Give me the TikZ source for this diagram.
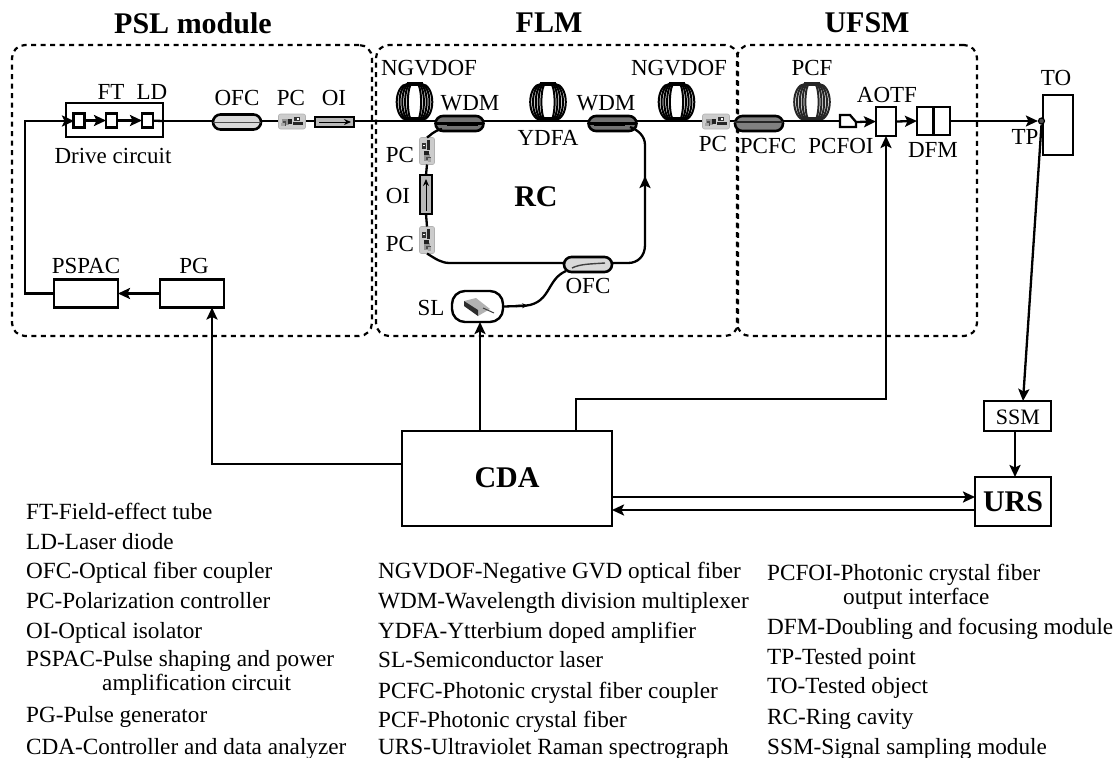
\documentclass[tikz,border=0pt]{standalone}
\usepackage{fontspec}
\setmainfont{Liberation Serif}
\usetikzlibrary{arrows.meta}
\tikzset{
 ln/.style={line width=2.3pt,draw=black},
 arr/.style={ln,-{Stealth[length=12pt,width=11pt,inset=2.5pt]}},
 boxn/.style={draw=black,line width=2.4pt,fill=white,inner sep=0pt,outer sep=0pt,rectangle},
 modbox/.style={draw=black,line width=2.2pt,dash pattern=on 5pt off 4.5pt,rounded corners=13pt,fill=none,inner sep=0pt,rectangle},
 coupler/.style={draw=black,line width=2.6pt,rounded corners=7.5pt,inner sep=0pt,outer sep=0pt,rectangle,minimum width=48pt,minimum height=15pt},
 lab/.style={font=\fontsize{23}{23}\selectfont,inner sep=0pt},
 bold/.style={font=\fontsize{30}{30}\selectfont\bfseries,inner sep=0pt},
 leg/.style={font=\fontsize{23.2}{24}\selectfont,inner sep=0pt,anchor=base west},
 pcn/.style={draw=gray!60,fill=gray!40,line width=.6pt,rounded corners=2pt,inner sep=0pt,outer sep=0pt,rectangle},
}
\newcommand\coil[3]{%
 \foreach \w in {17.8,15,12.2,9.4,6.6}{%
  \pgfmathsetmacro\k{\w*0.4}\pgfmathsetmacro\r{\w*0.6}%
  \draw[#3,line width=2pt] (#1-\k,#2-18) arc (90:270:\r pt and 18pt) -- (#1+\k,#2+18) arc (-90:90:\r pt and 18pt) -- cycle;}
 \draw[#3,line width=3.5pt] (#1-8,#2-18) -- (#1+8,#2-18);
 \draw[#3,line width=3.5pt] (#1-8,#2+17) -- (#1+8,#2+17);}
\newcommand\pcicon[4]{%
 \node[pcn,minimum width=27pt,minimum height=15pt,rotate=#4] (#1) at (#2,#3) {};
 \begin{scope}[shift={(#2,#3)},rotate=#4]
  \fill[gray!85] (-10,-3) rectangle (-3,3);
  \fill[gray!25!black] (-4,-3) rectangle (0,2);
  \fill[gray!40!black] (2,-5) rectangle (8,-1);
  \fill[gray!30!black] (1,0) rectangle (11,3);
  \fill[gray!60!black] (-9,-1) rectangle (-6,4);
  \fill[gray!70] (-11,1) rectangle (-7,4);
  \fill[white] (5,-4) rectangle (6.5,-2);
 \end{scope}}
\begin{document}
\begin{tikzpicture}[x=1pt,y=-1pt]
\useasboundingbox (0,0) rectangle (1120,758);
% module frames
\node[modbox,minimum width=360pt,minimum height=291pt] (psl) at (192,190.5) {};
\node[modbox,minimum width=362pt,minimum height=291pt] (flm) at (557,190.5) {};
\node[modbox,minimum width=240pt,minimum height=291pt] (ufsm) at (857,190.5) {};
\node[bold] (tpsl) at (193,23) {PSL module};
\node[bold] (tflm) at (549,23) {FLM};
\node[bold] (tufsm) at (867,23) {UFSM};
% coils
\coil{414.5}{102}{black}
\coil{548}{102}{black}
\coil{676.5}{102}{black}
\coil{812}{102}{gray!30!black}
% main fibre line
\coordinate (fstart) at (163,121);
\coordinate (fend) at (839,121);
\draw[ln] (fstart) -- (fend);
% drive circuit
\node[boxn,fill=none,minimum width=97pt,minimum height=34pt] (drive) at (114.5,120) {};
\node[boxn,minimum width=11pt,minimum height=14pt] (ftA) at (79,120.5) {};
\node[boxn,minimum width=11pt,minimum height=14pt] (ft) at (111.5,120.5) {};
\node[boxn,minimum width=11pt,minimum height=14pt] (ld) at (147.5,120.5) {};
\draw[arr] (ftA) -- (ft);
\draw[arr] (ft) -- (ld);
\draw[ln] (ld) -- (fstart);
% PSL parts
\node[coupler,fill=gray!30,minimum width=48pt] (ofcA) at (237,122) {};
\draw[gray!60!black,line width=1pt] (ofcA.west) -- (ofcA.east);
\pcicon{pcA}{292}{121.5}{0}
\node[boxn,fill=gray!55,minimum width=39pt,minimum height=10pt] (oiA) at (334.5,122) {};
\coordinate (oiAa) at (319,122);\coordinate (oiAb) at (351,122);
\draw[line width=1pt,-{Stealth[length=7pt,width=6pt]}] (oiAa) -- (oiAb);
\node[boxn,minimum width=64pt,minimum height=28pt] (pspac) at (86,293.5) {};
\node[boxn,minimum width=64pt,minimum height=28pt] (pg) at (192,293.5) {};
\draw[arr] (pg) -- (pspac);
\coordinate (corA) at (25,293.5);\coordinate (corB) at (25,121);\coordinate (driveIn) at (74,121);
\draw[arr] (pspac.west) -- (corA) -- (corB) -- (driveIn);
% ring cavity
\node[coupler,fill=black!55,minimum width=48pt] (wdmA) at (459.5,123.5) {};
\node[coupler,fill=black!55,minimum width=48pt] (wdmB) at (612.5,123.5) {};
\coordinate (wa1) at (447,124);\coordinate (wa2) at (478,124);
\coordinate (wb1) at (594,124);\coordinate (wb2) at (625,124);
\draw[line width=3.5pt] (wa1) -- (wa2);
\draw[line width=3.5pt] (wb1) -- (wb2);
\draw[ln] (wdmA.west) -- (wdmA.east);
\draw[ln] (wdmB.west) -- (wdmB.east);
\node[coupler,fill=black!50,minimum width=48pt] (pcfc) at (759,123.5) {};
\coordinate (pcfca) at (734,122);\coordinate (pcfcd) at (783,122);
\draw[ln,gray!30!black] (pcfca) -- (pcfcd);
\pcicon{pcC}{716}{121.5}{0}
\pcicon{pcD}{427}{151}{90}
\pcicon{pcE}{427}{240}{90}
\node[boxn,fill=gray!55,minimum width=12pt,minimum height=39pt] (oiB) at (426,194.5) {};
\coordinate (oiBa) at (426,211);\coordinate (oiBb) at (426,179);
\draw[line width=1pt,-{Stealth[length=7pt,width=6pt]}] (oiBa) -- (oiBb);
\draw[ln] (pcE.east) -- (oiB.south);
\draw[ln] (oiB.north) -- (pcD.west);
\node[coupler,fill=gray!30,minimum width=48pt] (ofcB) at (588,264.5) {};
\coordinate (ofcBa) at (572,268);\coordinate (ofcBb) at (605,263);
\draw[gray!50!black,line width=1.4pt] (ofcBa) .. controls (580,264) and (590,264) .. (ofcBb);
\coordinate (rbL) at (565,263);\coordinate (rbR) at (612,263);
\coordinate (rb2) at (645,245);\coordinate (rb3) at (645,145);\coordinate (wdmBr) at (630,127);\coordinate (wdmAl) at (442,129);
\draw[ln] (pcD.east) .. controls (430,136) and (433,131) .. (wdmAl);
\draw[ln] (pcE.west) .. controls (436,259) and (441,263) .. (450,263) -- (rbL);
\draw[ln] (rbR) -- (628,263) .. controls (638,263) and (645,256) .. (rb2) -- (rb3) .. controls (645,136) and (638,130) .. (wdmBr);
\coordinate (rarrA) at (645,200);\coordinate (rarrB) at (645,176);
\draw[arr] (rarrA) -- (rarrB);
% SL
\node[draw=black,line width=2.4pt,rounded corners=13pt,fill=white,inner sep=0pt,minimum width=51pt,minimum height=31pt] (sl) at (477.5,306.5) {};
\fill[gray!60] (464,301) -- (476,298) -- (490,309) -- (478,316) -- cycle;
\fill[gray!35!black] (464,301) -- (478,310) -- (478,316) -- (464,306) -- cycle;
\draw[gray!50!black,line width=1pt] (483,308) -- (494,313);
\draw[ln] (sl.east) -- (520,306) .. controls (552,306) and (545,280) .. (566,271);
\coordinate (slma) at (516,306);\coordinate (slmb) at (528,305.5);
\draw[ln,-{Stealth[length=6pt,width=5pt]}] (slma) -- (slmb);
% UFSM parts
\coordinate (pfa) at (840,115);\coordinate (pfb) at (850,115);\coordinate (pfc) at (856,122);\coordinate (pfd) at (856,127);\coordinate (pfe) at (840,127);
\draw[ln,fill=white,line join=miter] (pfa) -- (pfb) -- (pfc) -- (pfd) -- (pfe) -- cycle;
\node[boxn,minimum width=20pt,minimum height=29pt] (aotf) at (886,121.5) {};
\node[boxn,minimum width=33pt,minimum height=28pt] (dfm) at (933.5,121) {};
\draw[line width=2.2pt] (dfm.north) -- (dfm.south);
\draw[arr] (pfc) -- (aotf.west);
\draw[arr] (aotf.east) -- (dfm.west);
\node[boxn,minimum width=30pt,minimum height=60pt] (to) at (1058,125) {};
\node[circle,draw=black,fill=gray!60!black,line width=1.2pt,minimum size=6pt,inner sep=0pt] (tp) at (1041.5,121) {};
\draw[arr] (dfm.east) -- (tp.west);
% lower blocks
\node[boxn,minimum width=210pt,minimum height=95pt] (cda) at (507,478.5) {};
\node[boxn,minimum width=67pt,minimum height=30pt] (ssm) at (1017.5,416) {};
\node[boxn,minimum width=76pt,minimum height=49pt] (urs) at (1013,501.5) {};
\coordinate (cdaL) at (402,464);\coordinate (pgin) at (212,464);\coordinate (slin) at (480,431);
\coordinate (cda2) at (576,431);\coordinate (cda3) at (576,399);\coordinate (cda4) at (886,399);
\coordinate (c1a) at (612,497);\coordinate (c1b) at (975,497);\coordinate (c2a) at (975,510);\coordinate (c2b) at (612,510);
\coordinate (pgb) at (212,307.5);\coordinate (slb) at (480,322);
\coordinate (ssmt) at (1023,401);\coordinate (ssmb) at (1015,431);\coordinate (urst) at (1015,477);
\draw[arr] (cdaL) -- (pgin) -- (pgb);
\draw[arr] (slin) -- (slb);
\draw[arr] (cda2) -- (cda3) -- (cda4) -- (aotf.south);
\draw[arr] (c1a) -- (c1b);
\draw[arr] (c2a) -- (c2b);
\draw[arr] (tp.south) -- (ssmt);
\draw[arr] (ssmb) -- (urst);
% labels
\node[lab] (lFT) at (111,92) {FT};
\node[lab] (lLD) at (152,92) {LD};
\node[lab] (lOFCa) at (237,98) {OFC};
\node[lab] (lPCa) at (291,98) {PC};
\node[lab] (lOIa) at (334,98) {OI};
\node[lab] (lDrive) at (113,156) {Drive circuit};
\node[lab] (lPSPAC) at (86,266) {PSPAC};
\node[lab] (lPG) at (194,266) {PG};
\node[lab] (lNGa) at (429,68) {NGVDOF};
\node[lab] (lWDMa) at (470,103) {WDM};
\node[lab] (lYDFA) at (548,138) {YDFA};
\node[lab] (lWDMb) at (606,103) {WDM};
\node[lab] (lNGb) at (679,68) {NGVDOF};
\node[lab] (lPCc) at (713,144) {PC};
\node[lab] (lPCd) at (400,155) {PC};
\node[lab] (lOIb) at (398,196) {OI};
\node[lab] (lPCe) at (400,244) {PC};
\node[lab] (lOFCb) at (588,286) {OFC};
\node[lab] (lSL) at (431,308) {SL};
\node[lab] (lPCF) at (812,68) {PCF};
\node[lab] (lAOTF) at (887,95) {AOTF};
\node[lab] (lPCFC) at (768,146) {PCFC};
\node[lab] (lPCFOI) at (841,146) {PCFOI};
\node[lab] (lDFM) at (933,150) {DFM};
\node[lab] (lTP) at (1025,137) {TP};
\node[lab] (lTO) at (1056,78) {TO};
\node[bold] (lRC) at (536,197) {RC};
\node[bold] (lCDA) at (507,478) {CDA};
\node[bold] (lURS) at (1013,502) {URS};
\node[lab,font=\fontsize{22}{22}\selectfont] (lSSM) at (1018,417) {SSM};
% legend
\node[leg] (a1) at (26,519) {FT-Field-effect tube};
\node[leg] (a2) at (26,549) {LD-Laser diode};
\node[leg] (a3) at (26,578) {OFC-Optical fiber coupler};
\node[leg] (a4) at (26,608) {PC-Polarization controller};
\node[leg] (a5) at (26,638) {OI-Optical isolator};
\node[leg] (a6) at (26,666) {PSPAC-Pulse shaping and power};
\node[leg] (a7) at (102,690) {amplification circuit};
\node[leg] (a8) at (26,722) {PG-Pulse generator};
\node[leg] (a9) at (26,754) {CDA-Controller and data analyzer};
\node[leg] (b1) at (378,578) {NGVDOF-Negative GVD optical fiber};
\node[leg] (b2) at (378,608) {WDM-Wavelength division multiplexer};
\node[leg] (b3) at (378,638) {YDFA-Ytterbium doped amplifier};
\node[leg] (b4) at (378,667) {SL-Semiconductor laser};
\node[leg] (b5) at (378,698) {PCFC-Photonic crystal fiber coupler};
\node[leg] (b6) at (378,727) {PCF-Photonic crystal fiber};
\node[leg] (b7) at (378,754) {URS-Ultraviolet Raman spectrograph};
\node[leg] (c1) at (767,580) {PCFOI-Photonic crystal fiber};
\node[leg] (c2) at (843,604) {output interface};
\node[leg] (c3) at (767,634) {DFM-Doubling and focusing module};
\node[leg] (c4) at (767,664) {TP-Tested point};
\node[leg] (c5) at (767,693) {TO-Tested object};
\node[leg] (c6) at (767,724) {RC-Ring cavity};
\node[leg] (c7) at (767,754) {SSM-Signal sampling module};
\end{tikzpicture}
\end{document}
